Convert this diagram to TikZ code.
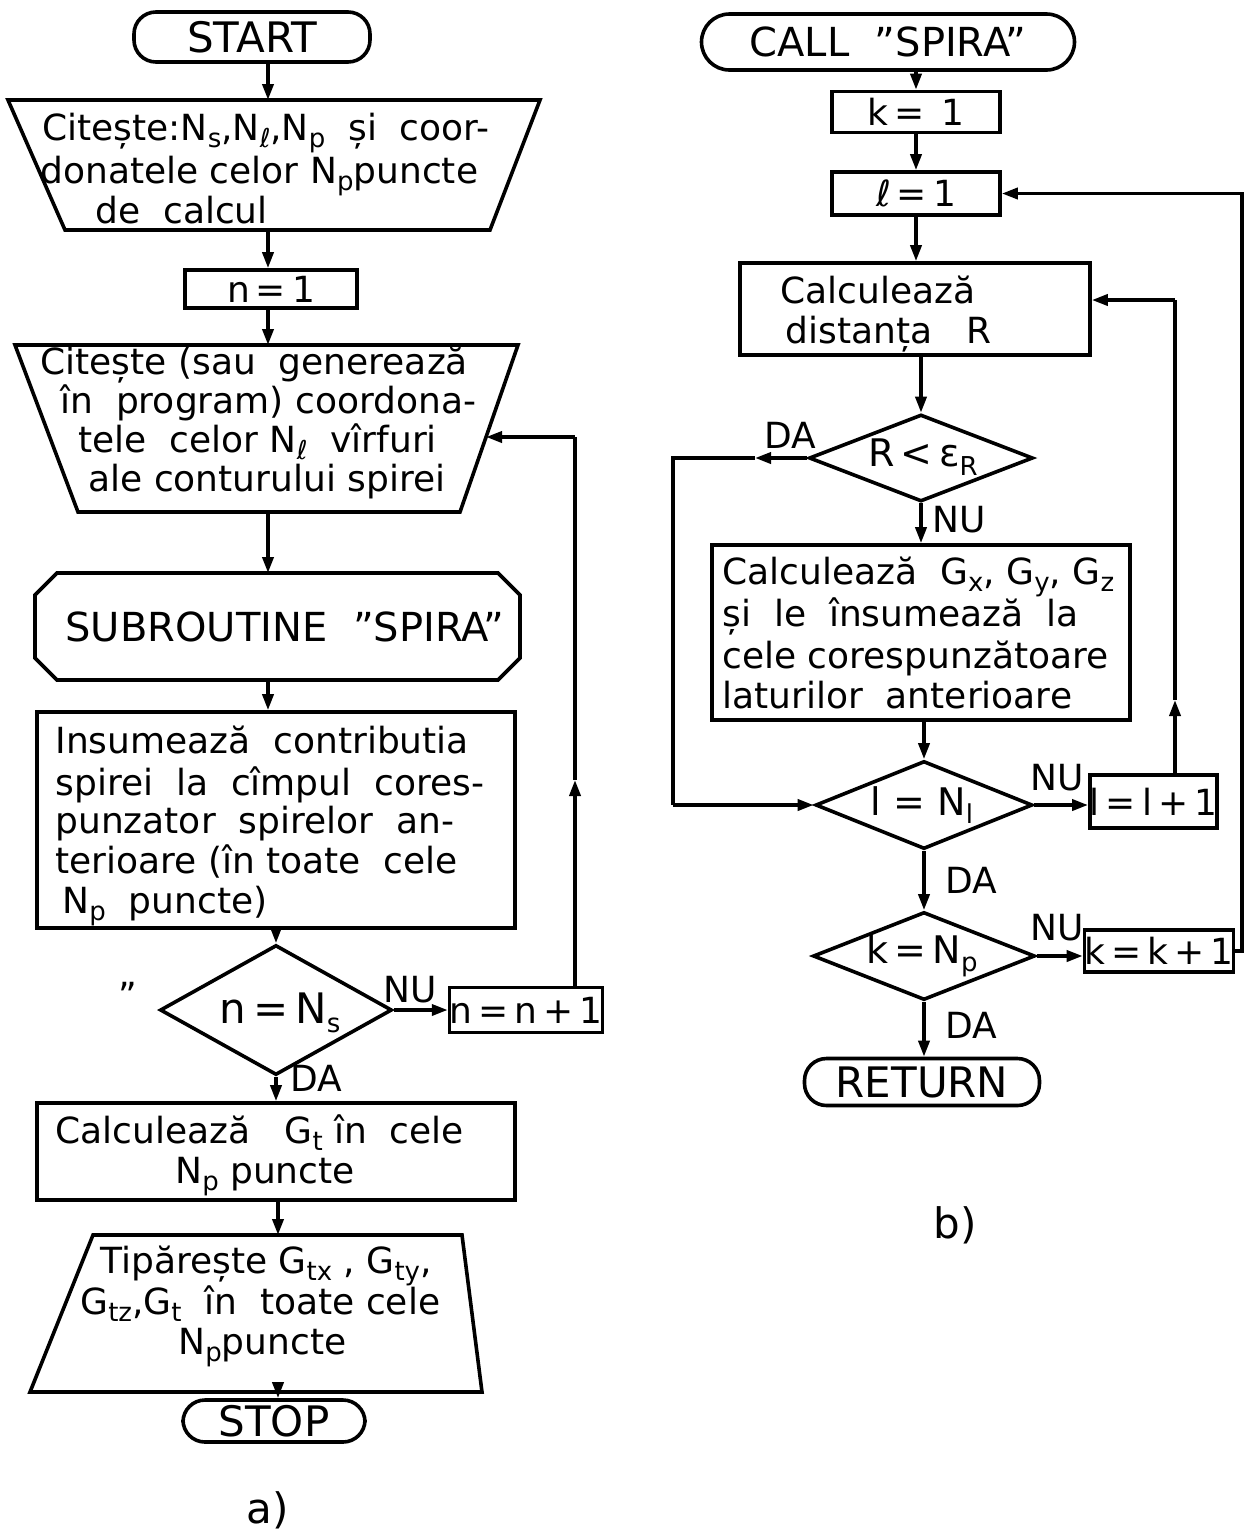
\documentclass[tikz,border=0pt]{standalone}
\usepackage{fontspec}
\setmainfont{DejaVu Sans}
\usetikzlibrary{arrows.meta,calc,shapes.geometric}
\newcommand\fs{\fontsize{18}{20}\selectfont}
\newcommand\fb{\fontsize{21}{24}\selectfont}
\newcommand\fm{\fontsize{20}{24}\selectfont}
\newcommand\fd{\fontsize{19}{22}\selectfont}
\newcommand\sbs[1]{\raisebox{-0.4ex}{\fontsize{13}{13}\selectfont #1}}
\begin{document}
\begin{tikzpicture}[x=0.5pt,y=-0.5pt,
  ln/.style={line width=1.8pt},
  arr/.style={line width=1.8pt,-{Triangle[length=8pt,width=5.5pt]}},
  box/.style={draw,line width=1.8pt,rectangle,inner sep=0pt,font=\fs},
  term/.style={draw,line width=1.8pt,rectangle,rounded corners=11pt,inner sep=0pt,font=\fb},
  dia/.style={draw,line width=1.8pt,diamond,inner sep=0pt},
  txt/.style={anchor=base west,inner sep=0pt,font=\fs},
  lab/.style={inner sep=0pt,font=\fs}]
\useasboundingbox (0,0) rectangle (1250,1538);
% ---------------- left chart a)
\node[term,minimum width=118pt,minimum height=25pt] (start) at (252,37) {START};
\coordinate (t1a) at (8,100); \coordinate (t1b) at (540,100);
\coordinate (t1c) at (490,230); \coordinate (t1d) at (65,230);
\coordinate (t1in) at (268,100); \coordinate (t1out) at (268,230);
\draw[ln] (t1a)--(t1b)--(t1c)--(t1d)--cycle;
\node[txt] (t1l1) at (42,140) {Citește:N\sbs{s},N\sbs{ℓ},N\sbs{p}\ \ și\ \ coor-};
\node[txt] (t1l2) at (40,183) {donatele celor N\sbs{p}puncte};
\node[txt] (t1l3) at (95,223) {de\ \ calcul};
\draw[arr] (start.south -| t1in) -- (t1in);

\node[box,minimum width=86pt,minimum height=19pt] (n1) at (271,289) {n\,=\,1};
\draw[arr] (t1out) -- (t1out |- n1.north);

\coordinate (t2a) at (15,345); \coordinate (t2b) at (518,345);
\coordinate (t2c) at (460,512); \coordinate (t2d) at (78,512);
\coordinate (t2in) at (268,345); \coordinate (t2out) at (268,512);
\coordinate (t2e) at (486,437);
\draw[ln] (t2a)--(t2b)--(t2c)--(t2d)--cycle;
\node[txt] (t2l1) at (40,374) {Citește (sau\ \ generează};
\node[txt] (t2l2) at (60,413) {în\ \ program) coordona-};
\node[txt] (t2l3) at (78,452) {tele\ \ celor N\sbs{ℓ}\ \ vîrfuri};
\node[txt] (t2l4) at (88,491) {ale conturului spirei};
\draw[arr] (n1.south -| t2in) -- (t2in);

\coordinate (oin) at (268,573); \coordinate (oout) at (268,680);
\draw[ln] (57,573)--(498,573)--(520,595)--(520,658)--(498,680)--(57,680)--(35,658)--(35,595)--cycle;
\node[lab,font=\fm] (sub) at (285,627) {SUBROUTINE\ \ "SPIRA"};
\draw[arr] (t2out) -- (oin);

\node[box,minimum width=239pt,minimum height=108pt] (ins) at (276,820) {};
\node[txt] (i1) at (55,753) {Insumează\ \ contributia};
\node[txt] (i2) at (55,795) {spirei\ \ la\ \ cîmpul\ \ cores-};
\node[txt] (i3) at (55,833) {punzator\ \ spirelor\ \ an-};
\node[txt] (i4) at (55,873) {terioare (în toate\ \ cele};
\node[txt] (i5) at (62,913) {N\sbs{p}\ \ puncte)};
\draw[arr] (oout) -- (ins.north -| oout);

\node[dia,minimum width=116pt,minimum height=65pt] (d1) at (276,1010) {};
\node[lab,font=\fb] (d1t) at (280,1013) {n\,=\,N\sbs{s}};
\draw[arr] (ins.south -| d1.north) -- (d1.north);
\node[lab] (q) at (128,995) {''};
\node[box,minimum width=71pt,minimum height=22.5pt] (nn1) at (526,1010) {n\,=\,n\,+\,1};
\draw[arr] (d1.east) -- (nn1.west);
\node[lab] (nu1) at (410,990) {NU};
\coordinate (lpm) at (575,780); \coordinate (lp1) at (575,437);
\draw[arr] (nn1.north -| lpm) -- (lpm);
\draw[ln] (lpm) -- (lp1);
\draw[arr] (lp1) -- (t2e);

\node[box,minimum width=239pt,minimum height=48.5pt] (gt) at (276,1151.5) {};
\node[txt] (g1) at (55,1143) {Calculează\ \ \ G\sbs{t} în\ \ cele};
\node[txt] (g2) at (175,1183) {N\sbs{p} puncte};
\draw[arr] (d1.south) -- (gt.north -| d1.south);
\node[lab,anchor=west] (da1) at (290,1078) {DA};

\coordinate (t3a) at (93,1235); \coordinate (t3b) at (462,1235);
\coordinate (t3c) at (482,1392); \coordinate (t3d) at (30,1392);
\coordinate (t3in) at (278,1235); \coordinate (t3out) at (278,1392);
\draw[ln] (t3a)--(t3b)--(t3c)--(t3d)--cycle;
\node[txt] (p1) at (100,1273) {Tipărește G\sbs{tx} , G\sbs{ty},};
\node[txt] (p2) at (80,1314) {G\sbs{tz},G\sbs{t}\ \ în\ \ toate cele};
\node[txt] (p3) at (178,1354) {N\sbs{p}puncte};
\draw[arr] (gt.south -| t3in) -- (t3in);

\node[term,minimum width=91pt,minimum height=21pt] (stop) at (274,1421) {STOP};
\draw[arr] (t3out) -- (stop.north -| t3out);
\node[lab,font=\fb] (la) at (268,1510) {a)};

% ---------------- right chart b)
\node[term,font=\fm,minimum width=186.5pt,minimum height=28pt,rounded corners=14pt] (call) at (888,42) {CALL\ \ "SPIRA"};
\node[box,minimum width=84pt,minimum height=20.5pt] (k1) at (916,112) {k\,=\,\ 1};
\node[box,minimum width=84pt,minimum height=21.5pt] (l1) at (916,193.5) {ℓ\,=\,1};
\draw[arr] (call.south -| k1) -- (k1.north);
\draw[arr] (k1.south) -- (l1.north);

\node[box,minimum width=175pt,minimum height=46pt] (calcR) at (915,309) {};
\node[txt] (r1) at (780,303) {Calculează};
\node[txt] (r2) at (785,343) {distanța\ \ \ R};
\draw[arr] (l1.south) -- (calcR.north -| l1.south);

\node[dia,minimum width=112pt,minimum height=43.5pt] (dR) at (921,458) {};
\node[lab,font=\fd] (dRt) at (923,457) {R\,<\,ε\sbs{R}};
\draw[arr] (calcR.south -| dR.north) -- (dR.north);
\node[lab] (da2) at (790,435) {DA};
\coordinate (m1) at (755,458); \coordinate (c1) at (673,458); \coordinate (c2) at (673,805);

\node[box,minimum width=209pt,minimum height=87.5pt] (gxyz) at (921,632.5) {};
\node[txt] (x1) at (722,584) {Calculează\ \ G\sbs{x}, G\sbs{y}, G\sbs{z}};
\node[txt] (x2) at (722,626) {și\ \ le\ \ însumează\ \ la};
\node[txt] (x3) at (722,668) {cele\ corespunzătoare};
\node[txt] (x4) at (722,708) {laturilor\ \ anterioare};
\draw[arr] (dR.south) -- (gxyz.north -| dR.south);
\node[lab,anchor=west] (nu2) at (932,520) {NU};

\node[dia,minimum width=108.5pt,minimum height=44pt] (dL) at (924,805) {};
\node[lab,font=\fd] (dLt) at (922,805) {l\ =\ N\sbs{l}};
\draw[arr] (gxyz.south -| dL.north) -- (dL.north);
\draw[arr] (dR.west) -- (m1);
\draw[ln] (m1) -- (c1) -- (c2);
\draw[arr] (c2) -- (dL.west);

\node[box,minimum width=58.5pt,minimum height=26.5pt] (ll1) at (1153.5,801.5) {l\,=\,l\,+\,1};
\draw[arr] (dL.east) -- (dL.east -| ll1.west);
\node[lab] (nu3) at (1057,778) {NU};
\coordinate (m2) at (1175,700); \coordinate (c3) at (1175,300);
\draw[arr] (ll1.north -| m2) -- (m2);
\draw[ln] (m2) -- (c3);
\draw[arr] (c3) -- (c3 -| calcR.east);

\node[dia,minimum width=111pt,minimum height=44pt] (dK) at (924,956) {};
\node[lab,font=\fd] (dKt) at (922,956) {k\,=\,N\sbs{p}};
\draw[arr] (dL.south) -- (dK.north);
\node[lab,anchor=west] (da3) at (945,880) {DA};
\node[box,minimum width=59pt,minimum height=21pt] (kk1) at (1159,951) {k\,=\,k\,+\,1};
\draw[arr] (dK.east) -- (dK.east -| kk1.west);
\node[lab] (nu4) at (1057,928) {NU};
\coordinate (c4) at (1242,951); \coordinate (c5) at (1242,193.5);
\draw[arr] (kk1.east) -- (c4) -- (c5) -- (l1.east);

\node[term,minimum width=117.5pt,minimum height=23.5pt] (ret) at (922,1082) {RETURN};
\draw[arr] (dK.south) -- (ret.north -| dK.south);
\node[lab,anchor=west] (da4) at (945,1025) {DA};
\node[lab,font=\fb] (lb) at (955,1225) {b)};
\end{tikzpicture}
\end{document}
